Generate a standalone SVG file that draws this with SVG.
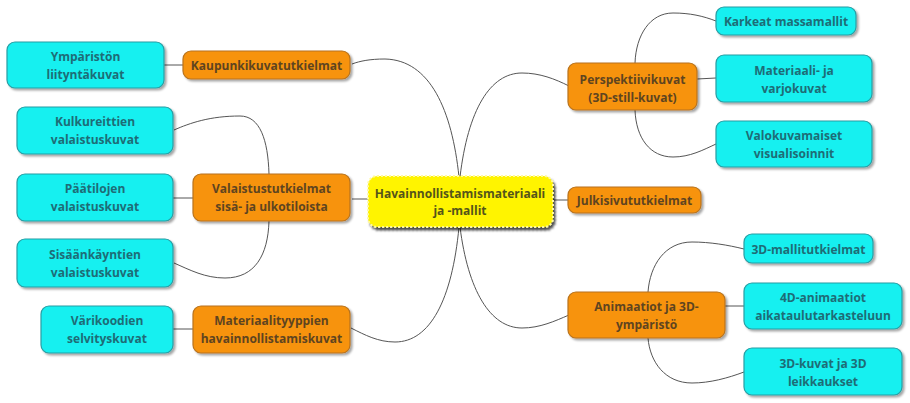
<svg xmlns="http://www.w3.org/2000/svg" width="910" height="403" viewBox="0 0 910 403">
<defs>
<filter id="sh" x="-10%" y="-20%" width="125%" height="150%">
<feDropShadow dx="2" dy="2" stdDeviation="1.2" flood-color="#000" flood-opacity="0.35"/>
</filter>
<filter id="shc" x="-10%" y="-20%" width="125%" height="150%">
<feDropShadow dx="2" dy="3" stdDeviation="1" flood-color="#000" flood-opacity="0.7"/>
</filter>
</defs>
<style>
.bg{fill:#ffffff}
.or rect{fill:#F7930F;stroke:#B8731E;stroke-width:1.2;filter:url(#sh)}
.cy rect{fill:#14F0F0;stroke:#2A9DA3;stroke-width:1.2;filter:url(#sh)}
.ce rect{fill:#FFF400;stroke:#FFF9A0;stroke-width:2;stroke-dasharray:2 2;filter:url(#shc)}
text{font-family:"Open Sans","Noto Sans","DejaVu Sans",sans-serif;font-weight:bold;font-size:12px;text-anchor:middle;dominant-baseline:central}
.or text{fill:#5E4420}
.cy text{fill:#1E6C76}
.ce text{fill:#54541A;font-size:12px}
.con path{fill:none;stroke:#555;stroke-width:1}
</style>
<rect class="bg" x="0" y="0" width="910" height="403"/>
<g id="connectors" class="con">
<path d="M459 177 C452 110 430 60 385 59 C370 59 360 61 352 64"/>
<path d="M460 177 C468 110 490 73 522 73 C540 73 555 79 569 86"/>
<path d="M459 227 C452 300 430 342 395 342 C378 342 365 335 351 328"/>
<path d="M460 227 C468 290 490 328 522 328 C540 328 555 321 569 315"/>
<path d="M352 199 L368 199"/>
<path d="M553 200 L568 200"/>
<path d="M164 65 L183 65"/>
<path d="M269 174 C268 140 260 116 240 116 C210 116 190 123 174 130"/>
<path d="M173 198 L193 198"/>
<path d="M269 221 C268 255 255 278 225 278 C205 278 190 270 174 263"/>
<path d="M173 329 L193 329"/>
<path d="M635 63 C636 35 650 13 673 13 C690 13 703 16 716 21"/>
<path d="M697 79 L716 78"/>
<path d="M635 110 C636 138 650 157 673 157 C690 157 703 150 716 144"/>
<path d="M648 292 C650 265 665 242 692 242 C710 242 728 245 744 249"/>
<path d="M725 306 L744 306"/>
<path d="M648 338 C650 362 665 383 692 383 C710 383 728 378 744 372"/>
</g>
<g id="center" class="ce"><rect x="368" y="176" width="185" height="51" rx="9"/><text x="460" y="193">Havainnollistamismateriaali</text><text x="460" y="210">ja -mallit</text></g>
<g id="kaupunki" class="or"><rect x="183" y="51" width="167" height="28" rx="8"/><text x="266.5" y="65">Kaupunkikuvatutkielmat</text></g>
<g id="valaistus" class="or"><rect x="193" y="174" width="157" height="47" rx="8"/><text x="271.5" y="188">Valaistustutkielmat</text><text x="271.5" y="206">sisä- ja ulkotiloista</text></g>
<g id="materiaalityypit" class="or"><rect x="193" y="306" width="157" height="47" rx="8"/><text x="271.5" y="320">Materiaalityyppien</text><text x="271.5" y="338">havainnollistamiskuvat</text></g>
<g id="perspektiivi" class="or"><rect x="568" y="63" width="129" height="47" rx="8"/><text x="632.5" y="79">Perspektiivikuvat</text><text x="632.5" y="97">(3D-still-kuvat)</text></g>
<g id="julkisivu" class="or"><rect x="568" y="187" width="133" height="26" rx="8"/><text x="634.5" y="200">Julkisivututkielmat</text></g>
<g id="animaatiot" class="or"><rect x="568" y="292" width="157" height="46" rx="8"/><text x="646.5" y="306">Animaatiot ja 3D-</text><text x="646.5" y="324">ympäristö</text></g>
<g id="ymparisto" class="cy"><rect x="7" y="42" width="157" height="46" rx="8"/><text x="85.5" y="56">Ympäristön</text><text x="85.5" y="74">liityntäkuvat</text></g>
<g id="kulkureitit" class="cy"><rect x="17" y="107" width="156" height="47" rx="8"/><text x="95" y="121">Kulkureittien</text><text x="95" y="139">valaistuskuvat</text></g>
<g id="paatilat" class="cy"><rect x="17" y="174" width="156" height="47" rx="8"/><text x="95" y="188">Päätilojen</text><text x="95" y="206">valaistuskuvat</text></g>
<g id="sisaankaynnit" class="cy"><rect x="17" y="239" width="156" height="48" rx="8"/><text x="95" y="254">Sisäänkäyntien</text><text x="95" y="272">valaistuskuvat</text></g>
<g id="varikoodit" class="cy"><rect x="41" y="306" width="132" height="47" rx="8"/><text x="107" y="320">Värikoodien</text><text x="107" y="338">selvityskuvat</text></g>
<g id="karkeat" class="cy"><rect x="716" y="7" width="140" height="28" rx="8"/><text x="786" y="21">Karkeat massamallit</text></g>
<g id="materiaali" class="cy"><rect x="716" y="55" width="156" height="47" rx="8"/><text x="794" y="70">Materiaali- ja</text><text x="794" y="88">varjokuvat</text></g>
<g id="valokuva" class="cy"><rect x="716" y="121" width="156" height="46" rx="8"/><text x="794" y="135">Valokuvamaiset</text><text x="794" y="153">visualisoinnit</text></g>
<g id="mallitutkielmat" class="cy"><rect x="744" y="234" width="129" height="29" rx="8"/><text x="808.5" y="249">3D-mallitutkielmat</text></g>
<g id="animaatio4d" class="cy"><rect x="744" y="283" width="158" height="46" rx="8"/><text x="823" y="297">4D-animaatiot</text><text x="823" y="315">aikataulutarkasteluun</text></g>
<g id="kuvat3d" class="cy"><rect x="744" y="348" width="158" height="47" rx="8"/><text x="823" y="363">3D-kuvat ja 3D</text><text x="823" y="381">leikkaukset</text></g>
</svg>
